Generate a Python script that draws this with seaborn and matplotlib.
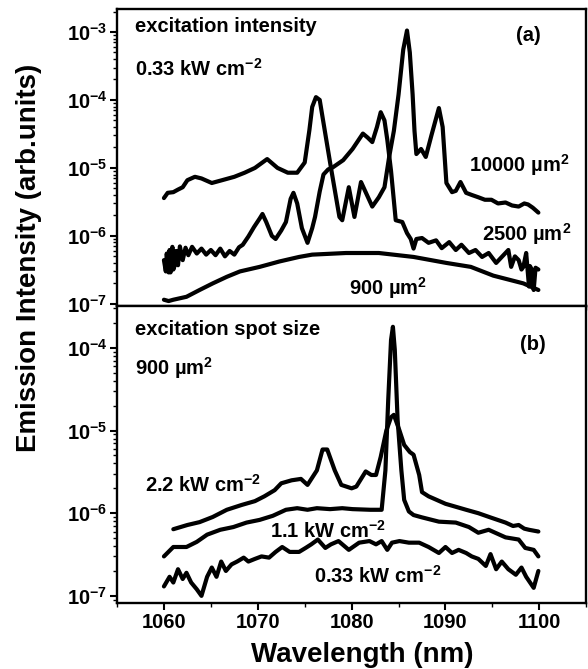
import numpy as np
import pandas as pd
import matplotlib
matplotlib.use('Agg')
import matplotlib.pyplot as plt
from matplotlib.ticker import MultipleLocator, LogLocator, FuncFormatter, NullFormatter
import seaborn as sns

# (a) excitation intensity 0.33 kW cm^-2, three spot sizes
wl_10000 = [1060.0, 1060.4, 1061.0, 1061.5, 1062.0, 1062.5, 1063.3, 1064.0, 1065.1, 1066.2,
            1067.5, 1068.6, 1069.7, 1071.0, 1072.1, 1073.2, 1074.2, 1075.0, 1075.5, 1075.8,
            1076.2, 1076.6, 1076.9, 1077.3, 1077.8, 1078.7, 1079.0, 1079.7, 1080.3, 1081.0,
            1082.2, 1082.9, 1083.5, 1084.0, 1084.5, 1085.0, 1085.5, 1085.9, 1086.2, 1086.5,
            1086.7, 1086.9, 1087.4, 1087.9, 1088.5, 1089.3, 1089.7, 1090.1, 1090.7, 1091.1,
            1091.6, 1092.2, 1092.8, 1093.5, 1094.2, 1094.9, 1095.6, 1096.4, 1097.1, 1097.8,
            1098.4, 1098.8, 1099.3, 1099.9]
int_10000 = [3.6e-6, 4.3e-6, 4.4e-6, 4.8e-6, 5.2e-6, 6.6e-6, 7.4e-6, 7.0e-6, 6.0e-6, 6.6e-6,
             7.4e-6, 8.5e-6, 1.0e-5, 1.35e-5, 1.0e-5, 8.5e-6, 8.5e-6, 1.2e-5, 3.6e-5, 7.9e-5,
             1.1e-4, 1.0e-4, 5.6e-5, 2.6e-5, 1.0e-5, 1.9e-6, 1.7e-6, 5.2e-6, 1.9e-6, 6.2e-6,
             2.7e-6, 3.7e-6, 5.2e-6, 1.45e-5, 3.5e-5, 1.2e-4, 5.5e-4, 1.05e-3, 5.0e-4, 1.2e-4,
             3.5e-5, 1.6e-5, 1.9e-5, 1.45e-5, 3.0e-5, 7.6e-5, 4.0e-5, 6.0e-6, 4.4e-6, 4.6e-6,
             6.2e-6, 4.3e-6, 4.0e-6, 3.7e-6, 3.4e-6, 3.4e-6, 3.0e-6, 3.1e-6, 2.8e-6, 2.7e-6,
             3.0e-6, 2.9e-6, 2.6e-6, 2.2e-6]

wl_2500 = [1060.0, 1060.2, 1060.3, 1060.5, 1060.6, 1060.7, 1060.9, 1061.0, 1061.1, 1061.3,
           1061.5, 1061.7, 1062.0, 1062.3, 1062.6, 1063.0, 1063.5, 1064.0, 1064.5, 1065.0,
           1065.5, 1066.0, 1066.5, 1067.0, 1067.5, 1068.0, 1068.4, 1069.0, 1069.6, 1070.2,
           1070.5, 1070.9, 1071.5, 1071.9, 1072.5, 1073.0, 1073.5, 1073.8, 1074.2, 1074.7,
           1075.3, 1075.8, 1076.1, 1076.6, 1077.0, 1077.5, 1078.0, 1079.1, 1080.1, 1081.2,
           1081.7, 1082.2, 1082.7, 1083.1, 1083.5, 1083.8, 1084.2, 1084.7, 1085.4, 1085.9,
           1086.3, 1086.6, 1086.9, 1087.5, 1088.2, 1089.0, 1089.6, 1090.4, 1091.1, 1091.7,
           1092.5, 1093.2, 1093.9, 1094.6, 1095.4, 1096.0, 1096.7, 1097.0, 1097.4, 1097.8,
           1098.1, 1098.3, 1098.6, 1098.9, 1099.0, 1099.2, 1099.4, 1099.6, 1099.9]
int_2500 = [4.4e-7, 3.0e-7, 5.5e-7, 2.9e-7, 6.2e-7, 2.9e-7, 6.9e-7, 3.2e-7, 3.5e-7, 6.0e-7,
            3.7e-7, 7.0e-7, 4.4e-7, 6.7e-7, 5.2e-7, 6.9e-7, 5.5e-7, 6.5e-7, 5.3e-7, 6.2e-7,
            5.2e-7, 6.5e-7, 5.0e-7, 6.0e-7, 5.3e-7, 6.8e-7, 7.4e-7, 9.8e-7, 1.35e-6, 1.8e-6,
            2.1e-6, 1.6e-6, 1.0e-6, 9.0e-7, 1.2e-6, 1.6e-6, 3.5e-6, 4.3e-6, 3.0e-6, 1.3e-6,
            7.9e-7, 1.3e-6, 1.9e-6, 4.5e-6, 8.0e-6, 9.5e-6, 1.02e-5, 1.3e-5, 1.9e-5, 3.2e-5,
            2.8e-5, 2.4e-5, 4.0e-5, 6.6e-5, 5.0e-5, 2.6e-5, 9.0e-6, 1.7e-6, 1.6e-6, 1.1e-6,
            9.0e-7, 6.5e-7, 9.0e-7, 9.3e-7, 7.9e-7, 8.6e-7, 6.6e-7, 8.1e-7, 6.2e-7, 7.4e-7,
            5.6e-7, 6.2e-7, 4.9e-7, 5.6e-7, 4.0e-7, 4.9e-7, 6.2e-7, 3.5e-7, 5.0e-7, 4.4e-7,
            3.2e-7, 3.5e-7, 5.6e-7, 1.8e-7, 3.6e-7, 3.2e-7, 1.6e-7, 3.4e-7, 3.2e-7]

wl_900 = [1060.0, 1060.5, 1061.0, 1062.4, 1063.8, 1065.2, 1066.7, 1068.1, 1070.2, 1072.3,
          1074.4, 1075.8, 1079.4, 1082.9, 1086.6, 1090.1, 1092.7, 1095.1, 1098.3, 1099.9]
int_900 = [1.15e-7, 1.1e-7, 1.15e-7, 1.27e-7, 1.6e-7, 2.0e-7, 2.5e-7, 3.0e-7, 3.5e-7, 4.2e-7,
           4.9e-7, 5.3e-7, 5.6e-7, 5.6e-7, 4.9e-7, 4.0e-7, 3.5e-7, 2.6e-7, 2.0e-7, 1.6e-7]

# (b) spot size 900 um^2, three excitation intensities
wl_22 = [1061.0, 1062.5, 1063.8, 1065.2, 1066.7, 1068.3, 1069.7, 1070.7, 1071.8, 1072.5,
         1073.6, 1074.6, 1075.3, 1076.3, 1076.9, 1077.4, 1078.2, 1078.9, 1080.0, 1080.5,
         1081.5, 1082.1, 1082.6, 1083.1, 1083.7, 1084.2, 1084.5, 1085.1, 1085.6, 1086.2,
         1086.6, 1087.2, 1087.5, 1088.2, 1090.0, 1092.2, 1093.5, 1094.9, 1096.4, 1097.2,
         1097.8, 1098.4, 1098.9, 1099.9]
int_22 = [6.4e-7, 7.2e-7, 7.8e-7, 9.0e-7, 1.1e-6, 1.26e-6, 1.4e-6, 1.6e-6, 1.9e-6, 2.3e-6,
          2.5e-6, 2.6e-6, 2.2e-6, 3.3e-6, 5.9e-6, 5.9e-6, 3.3e-6, 2.2e-6, 2.0e-6, 2.1e-6,
          3.2e-6, 2.9e-6, 2.9e-6, 4.8e-6, 1.0e-5, 1.45e-5, 1.55e-5, 1.0e-5, 6.7e-6, 5.5e-6,
          5.1e-6, 2.9e-6, 1.8e-6, 1.6e-6, 1.3e-6, 1.1e-6, 1.0e-6, 8.8e-7, 7.7e-7, 7.0e-7,
          7.2e-7, 6.5e-7, 6.3e-7, 6.0e-7]

wl_11 = [1060.0, 1061.0, 1062.4, 1063.5, 1064.6, 1066.0, 1067.4, 1068.8, 1070.2, 1071.6,
         1073.0, 1074.2, 1075.3, 1076.3, 1077.7, 1079.0, 1080.1, 1082.0, 1083.2, 1083.6,
         1083.9, 1084.2, 1084.4, 1084.6, 1084.9, 1085.3, 1085.6, 1086.1, 1086.6, 1087.5,
         1089.3, 1091.1, 1092.5, 1093.5, 1094.6, 1096.4, 1097.8, 1098.5, 1099.4, 1099.9]
int_11 = [3.0e-7, 3.9e-7, 3.9e-7, 4.5e-7, 5.5e-7, 6.3e-7, 6.8e-7, 7.7e-7, 8.3e-7, 9.3e-7,
          1.1e-6, 1.15e-6, 1.1e-6, 1.15e-6, 1.12e-6, 1.15e-6, 1.12e-6, 1.1e-6, 1.1e-6, 3.3e-6,
          2.35e-5, 1.25e-4, 1.8e-4, 9.5e-5, 1.35e-5, 3.3e-6, 1.45e-6, 1.05e-6, 9.5e-7, 8.9e-7,
          7.9e-7, 7.7e-7, 6.8e-7, 5.8e-7, 6.3e-7, 5.1e-7, 4.8e-7, 3.8e-7, 3.6e-7, 3.0e-7]

wl_033 = [1060.0, 1060.6, 1061.0, 1061.5, 1062.0, 1062.4, 1062.9, 1063.5, 1064.0, 1064.6,
          1065.1, 1065.6, 1066.1, 1066.6, 1067.2, 1067.8, 1068.5, 1069.0, 1069.7, 1070.4,
          1071.2, 1071.9, 1072.6, 1073.4, 1074.4, 1075.1, 1075.7, 1076.4, 1077.2, 1077.8,
          1078.6, 1079.7, 1080.8, 1081.9, 1082.6, 1083.2, 1083.8, 1084.3, 1085.1, 1086.1,
          1087.2, 1088.2, 1089.3, 1090.0, 1090.7, 1091.4, 1092.2, 1092.8, 1093.5, 1094.3,
          1094.8, 1095.4, 1096.0, 1096.7, 1097.5, 1098.1, 1098.6, 1099.4, 1099.9]
int_033 = [1.3e-7, 1.7e-7, 1.45e-7, 2.1e-7, 1.6e-7, 1.9e-7, 1.45e-7, 1.2e-7, 1.0e-7, 1.7e-7,
           2.2e-7, 1.7e-7, 2.6e-7, 2.0e-7, 2.4e-7, 2.6e-7, 2.9e-7, 2.6e-7, 2.8e-7, 3.0e-7,
           2.9e-7, 3.4e-7, 3.9e-7, 3.4e-7, 3.4e-7, 3.8e-7, 4.2e-7, 4.8e-7, 3.8e-7, 4.2e-7,
           4.6e-7, 3.6e-7, 4.4e-7, 4.6e-7, 4.2e-7, 4.6e-7, 3.6e-7, 4.4e-7, 4.6e-7, 4.4e-7,
           4.4e-7, 3.9e-7, 3.3e-7, 3.9e-7, 3.3e-7, 3.6e-7, 3.3e-7, 3.0e-7, 2.8e-7, 2.3e-7,
           3.2e-7, 2.1e-7, 2.6e-7, 2.1e-7, 1.8e-7, 2.2e-7, 1.7e-7, 1.25e-7, 2.0e-7]

sns.set_theme(style='ticks')
plt.rcParams['font.family'] = ['Liberation Sans', 'DejaVu Sans']
plt.rcParams['font.weight'] = 'bold'
plt.rcParams['text.color'] = 'black'
plt.rcParams['mathtext.fontset'] = 'custom'
plt.rcParams['mathtext.rm'] = 'Liberation Sans:bold'
plt.rcParams['mathtext.it'] = 'Liberation Sans:bold'
plt.rcParams['mathtext.bf'] = 'Liberation Sans:bold'

fig = plt.figure(figsize=(5.88, 6.69), dpi=100)
ax_a = fig.add_axes([0.199, 0.5426, 0.798, 0.444])
ax_b = fig.add_axes([0.199, 0.0987, 0.798, 0.444])

def draw(ax, wl, val):
    df = pd.DataFrame({'wl': wl, 'val': val})
    sns.lineplot(data=df, x='wl', y='val', ax=ax, color='black', lw=3.0,
                 estimator=None, sort=False)

draw(ax_a, wl_10000, int_10000)
draw(ax_a, wl_2500, int_2500)
draw(ax_a, wl_900, int_900)
draw(ax_b, wl_22, int_22)
draw(ax_b, wl_11, int_11)
draw(ax_b, wl_033, int_033)

fmt = FuncFormatter(lambda v, p: r'$10^{%d}$' % int(round(np.log10(v))))
for ax in (ax_a, ax_b):
    ax.set_yscale('log')
    ax.set_xlim(1055, 1105)
    ax.xaxis.set_major_locator(MultipleLocator(10))
    ax.xaxis.set_minor_locator(MultipleLocator(5))
    ax.yaxis.set_major_locator(LogLocator(base=10, numticks=12))
    ax.yaxis.set_minor_locator(LogLocator(base=10, subs=np.arange(2, 10), numticks=12))
    ax.yaxis.set_major_formatter(fmt)
    ax.yaxis.set_minor_formatter(NullFormatter())
    ax.tick_params(which='major', direction='out', length=5, width=1.5, labelsize=14.5,
                   colors='black', pad=2)
    ax.tick_params(which='minor', direction='out', length=3, width=1.0, colors='black')
    ax.set_xlabel('')
    ax.set_ylabel('')
    for s in ax.spines.values():
        s.set_color('black')
        s.set_linewidth(1.7)

ax_a.set_ylim(0.93e-7, 2.18e-3)
ax_b.set_ylim(0.82e-7, 3.22e-4)
ax_a.tick_params(labelbottom=False)

tk = dict(transform=ax_a.transAxes, fontsize=14.5, fontweight='bold', va='center',
          color='black')
ax_a.text(0.038, 0.94, 'excitation intensity', ha='left', **tk)
ax_a.text(0.038, 0.80, r'0.33 kW cm$^{-2}$', ha='left', **tk)
ax_a.text(0.876, 0.912, '(a)', ha='center', **tk)
ax_a.text(0.857, 0.475, r'10000 µm$^{2}$', ha='center', **tk)
ax_a.text(0.874, 0.242, r'2500 µm$^{2}$', ha='center', **tk)
ax_a.text(0.578, 0.06, r'900 µm$^{2}$', ha='center', **tk)

tk['transform'] = ax_b.transAxes
ax_b.text(0.038, 0.919, 'excitation spot size', ha='left', **tk)
ax_b.text(0.038, 0.79, r'900 µm$^{2}$', ha='left', **tk)
ax_b.text(0.887, 0.869, '(b)', ha='center', **tk)
ax_b.text(0.183, 0.397, r'2.2 kW cm$^{-2}$', ha='center', **tk)
ax_b.text(0.45, 0.242, r'1.1 kW cm$^{-2}$', ha='center', **tk)
ax_b.text(0.555, 0.091, r'0.33 kW cm$^{-2}$', ha='center', **tk)

fig.text(0.049, 0.614, 'Emission Intensity (arb.units)', rotation=90, ha='center',
         va='center', fontsize=20, fontweight='bold', color='black')
fig.text(0.616, 0.021, 'Wavelength (nm)', ha='center', va='center', fontsize=20,
         fontweight='bold', color='black')

fig.savefig('out.png', dpi=100)
